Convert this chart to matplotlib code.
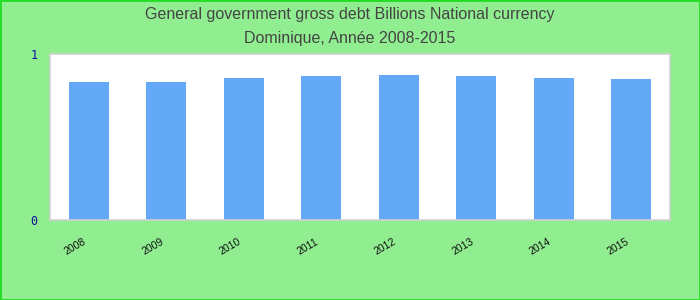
import matplotlib.pyplot as plt
from matplotlib.transforms import ScaledTranslation

# Données
annees = ["2008", "2009", "2010", "2011", "2012", "2013", "2014", "2015"]
dette = [0.833, 0.833, 0.857, 0.867, 0.873, 0.867, 0.857, 0.849]

fig = plt.figure(figsize=(7, 3), dpi=100, facecolor="#90EE90")
fig.patches.append(plt.Rectangle((0, 0), 1, 1, transform=fig.transFigure,
                                 fill=False, edgecolor="#22DD22", linewidth=2))
ax = fig.add_axes([50 / 700, 80 / 300, 620 / 700, 166 / 300])
ax.set_facecolor("white")

x = range(len(annees))
ax.bar(x, dette, width=0.52, color="#63A9F5")

ax.set_xlim(-0.5, len(annees) - 0.5)
ax.set_ylim(0, 1)
ax.set_yticks([0, 1])
ax.set_yticklabels(["0", "1"], color="#10109a", fontsize=8.5, family="DejaVu Sans Mono")
ax.set_xticks(list(x))
ax.set_xticklabels(annees, rotation=30, ha="right", rotation_mode="anchor",
                   fontsize=7.5, family="Liberation Sans", color="#111111")
ax.tick_params(axis="both", length=0)
ax.tick_params(axis="x", pad=12)
ax.tick_params(axis="y", pad=9)
decal = ScaledTranslation(-6 / 100, 0, fig.dpi_scale_trans)
for lab in ax.get_xticklabels():
    lab.set_transform(lab.get_transform() + decal)
for s in ax.spines.values():
    s.set_color("#d0d0d0")
    s.set_linewidth(1.2)

fig.text(0.5, 1 - 15 / 300, "General government gross debt Billions National currency",
         ha="center", va="center", fontsize=11.5, color="#444444", family="Liberation Sans")
fig.text(0.5, 1 - 38 / 300, "Dominique, Année 2008-2015",
         ha="center", va="center", fontsize=11.5, color="#444444", family="Liberation Sans")

fig.savefig("out.png", dpi=100, facecolor=fig.get_facecolor())
